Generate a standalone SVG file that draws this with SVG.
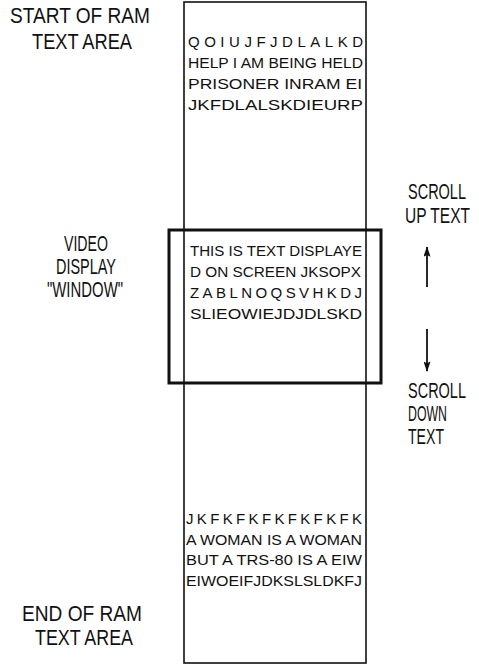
<svg xmlns="http://www.w3.org/2000/svg" width="479" height="671" viewBox="0 0 479 671">
<style>
.lbl{font-family:"Liberation Sans",Arial,sans-serif;font-size:22px;fill:#111}
.mem{font-family:"Liberation Sans",Arial,sans-serif;font-size:15px;fill:#111}
.box{fill:none;stroke:#111;stroke-width:1.6}
.win{fill:none;stroke:#111;stroke-width:3}
.arr{stroke:#111;stroke-width:1.8;fill:none}
</style>
<defs>
<marker id="ah" viewBox="0 0 12 8" refX="11" refY="4" markerWidth="12" markerHeight="7" markerUnits="userSpaceOnUse" orient="auto"><path d="M0,0 L12,4 L0,8 L2,4 Z" fill="#111"/></marker>
</defs>
<rect width="479" height="671" fill="#fff"/>
<g id="ram-text-area">
<rect class="box" x="184" y="2" width="182" height="661"/>
</g>
<g id="ram-top-text">
<text class="mem" x="188" y="47" textLength="175" lengthAdjust="spacing">QOIUJFJDLALKD</text>
<text class="mem" x="188" y="68" textLength="175" lengthAdjust="spacingAndGlyphs">HELP I AM BEING HELD</text>
<text class="mem" x="188" y="89" textLength="174" lengthAdjust="spacingAndGlyphs">PRISONER INRAM  EI</text>
<text class="mem" x="188" y="110" textLength="175" lengthAdjust="spacingAndGlyphs">JKFDLALSKDIEURP</text>
</g>
<g id="video-window">
<rect class="win" x="169" y="230" width="212" height="153"/>
<text class="mem" x="190" y="256" textLength="172" lengthAdjust="spacingAndGlyphs">THIS IS TEXT  DISPLAYE</text>
<text class="mem" x="190" y="277" textLength="171" lengthAdjust="spacingAndGlyphs">D ON  SCREEN JKSOPX</text>
<text class="mem" x="190" y="298" textLength="172" lengthAdjust="spacing">ZABLNOQSVHKDJ</text>
<text class="mem" x="190" y="319" textLength="172" lengthAdjust="spacingAndGlyphs">SLIEOWIEJDJDLSKD</text>
</g>
<g id="ram-bottom-text">
<text class="mem" x="186" y="524" textLength="176" lengthAdjust="spacing">JKFKFKFKFKFKFK</text>
<text class="mem" x="186" y="545" textLength="176" lengthAdjust="spacingAndGlyphs">A WOMAN IS A WOMAN</text>
<text class="mem" x="186" y="565" textLength="176" lengthAdjust="spacingAndGlyphs">BUT A TRS-80 IS A EIW</text>
<text class="mem" x="186" y="586" textLength="176" lengthAdjust="spacingAndGlyphs">EIWOEIFJDKSLSLDKFJ</text>
</g>
<g id="label-start" transform="scale(0.75,1)">
<text class="lbl" x="13.33" y="23" textLength="186.67" lengthAdjust="spacingAndGlyphs">START OF RAM</text>
<text class="lbl" x="42.67" y="49" textLength="133.33" lengthAdjust="spacingAndGlyphs">TEXT AREA</text>
</g>
<g id="label-window" transform="scale(0.75,1)">
<text class="lbl" x="85.33" y="251" textLength="58.67" lengthAdjust="spacingAndGlyphs">VIDEO</text>
<text class="lbl" x="74.67" y="274" textLength="80" lengthAdjust="spacingAndGlyphs">DISPLAY</text>
<text class="lbl" x="62.67" y="297" textLength="101.33" lengthAdjust="spacingAndGlyphs">"WINDOW"</text>
</g>
<g id="label-scroll-up" transform="scale(0.75,1)">
<text class="lbl" x="544" y="199" textLength="77.33" lengthAdjust="spacingAndGlyphs">SCROLL</text>
<text class="lbl" x="540" y="223" textLength="86.67" lengthAdjust="spacingAndGlyphs">UP TEXT</text>
</g>
<g id="label-scroll-down" transform="scale(0.75,1)">
<text class="lbl" x="544" y="398" textLength="77.33" lengthAdjust="spacingAndGlyphs">SCROLL</text>
<text class="lbl" x="544" y="421" textLength="52" lengthAdjust="spacingAndGlyphs">DOWN</text>
<text class="lbl" x="544" y="444" textLength="48" lengthAdjust="spacingAndGlyphs">TEXT</text>
</g>
<g id="label-end" transform="scale(0.75,1)">
<text class="lbl" x="29.33" y="621" textLength="160" lengthAdjust="spacingAndGlyphs">END OF RAM</text>
<text class="lbl" x="46.67" y="645" textLength="130.67" lengthAdjust="spacingAndGlyphs">TEXT AREA</text>
</g>
<g id="connectors">
<line class="arr" x1="427" y1="287" x2="427" y2="247" marker-end="url(#ah)"/>
<line class="arr" x1="427" y1="329" x2="427" y2="371" marker-end="url(#ah)"/>
</g>
</svg>
